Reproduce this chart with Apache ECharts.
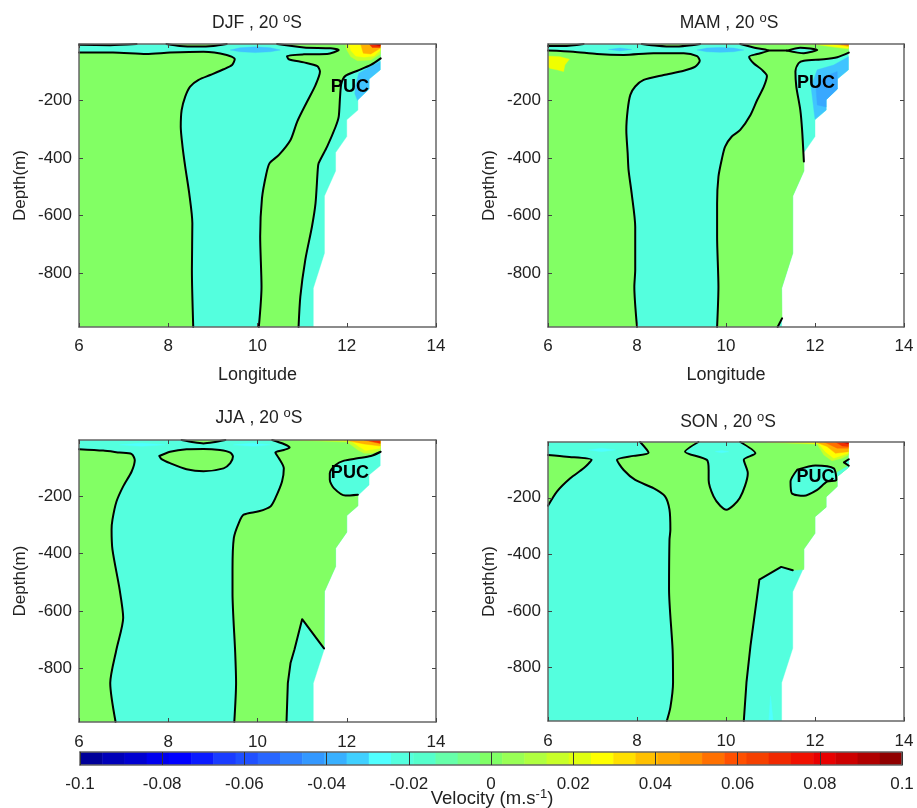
<!DOCTYPE html>
<html><head><meta charset="utf-8">
<style>html,body{margin:0;padding:0;background:#fff}#c{width:917px;height:808px}</style>
<script src="https://cdn.jsdelivr.net/npm/echarts@6/dist/echarts.min.js"></script>
</head><body><div id="c"></div>
<script>
// ---------- tick labels ----------
const lonTicks = [6, 8, 10, 12, 14];
const depthTicks = [-800, -600, -400, -200];
const velocityTicks = [-0.1, -0.08, -0.06, -0.04, -0.02, 0, 0.02, 0.04, 0.06, 0.08, 0.1];
const colorbarLevels = ['#000099','#0000b8','#0000d0','#0000ee','#0000ff','#0a1aff','#1a3cff','#2050ff','#2866ff','#2e80ff','#3398ff','#38b0ff','#40d0ff','#50ffff','#54ffde','#55ffcc','#66ffaa','#75ff88','#80ff66','#99ff55','#b0ff40','#c8ff28','#e0ff10','#ffff00','#ffe000','#ffc000','#ffa800','#ff9000','#ff7000','#ff5000','#f54000','#f02800','#f01000','#e80000','#cc0000','#b00000','#900000'];

// ---------- ocean/shelf edge [lon, depth] ----------
const shelfEdge = [[12.75,-3],[12.75,-93],[12.5,-125],[12.5,-160],[12.25,-197],[12.25,-233],[12,-267],[12,-325],[11.75,-381],[11.75,-445],[11.5,-532],[11.5,-731],[11.25,-853],[11.25,-988]];

// ---------- DJF ----------
const djfA = [[6,-33],[6.76,-33],[7.51,-38],[8.04,-33],[8.79,-30],[9.31,-41],[9.49,-56],[9.43,-76],[9.24,-91],[8.94,-111],[8.68,-128],[8.49,-151],[8.38,-186],[8.3,-233],[8.28,-291],[8.32,-360],[8.38,-430],[8.47,-523],[8.54,-627],[8.53,-790],[8.56,-988]];
const djfB = [[10.44,-3],[11.04,-15],[11.64,-18],[11.82,-24],[11.56,-38],[11.04,-39],[10.66,-45],[10.7,-56],[11.04,-67],[11.34,-80],[11.4,-99],[11.3,-146],[11.11,-204],[10.89,-273],[10.74,-337],[10.48,-389],[10.27,-418],[10.2,-453],[10.1,-540],[10.06,-673],[10.09,-848],[10.03,-988]];
const djfC = [[12.76,-53],[12.54,-76],[12.24,-96],[11.97,-114],[11.88,-140],[11.85,-186],[11.82,-256],[11.75,-291],[11.56,-360],[11.37,-418],[11.35,-441],[11.3,-558],[11.22,-639],[11.07,-755],[10.96,-882],[10.92,-988]];
const djfTop1 = [[6,-6],[6.7,-7],[7.29,-3]];
const djfTop2 = [[7.96,-3],[8.26,-10],[8.64,-12],[9.01,-10],[9.31,-3]];
const djfBlue = [[12.75,-64],[12.5,-84],[12.27,-105],[12.2,-146],[12.18,-175],[12.24,-200],[12.25,-197],[12.5,-160],[12.5,-125],[12.75,-93]];
const djfEddy = [[9.39,-24],[9.61,-16],[9.95,-13],[10.29,-16],[10.51,-24],[10.29,-30],[9.95,-33],[9.61,-30]];
const djfWarm1 = [[11.97,-3],[12,-24],[12.09,-47],[12.24,-61],[12.54,-59],[12.75,-38],[12.75,-3]];
const djfWarm2 = [[12.05,-3],[12.09,-26],[12.2,-45],[12.39,-49],[12.61,-45],[12.75,-26],[12.75,-3]];
const djfWarm3 = [[12.31,-3],[12.37,-35],[12.54,-38],[12.75,-18],[12.75,-3]];
const djfWarm4 = [[12.5,-3],[12.57,-15],[12.75,-15],[12.75,-3]];
const djfWarm5 = [[12.57,-3],[12.75,-10],[12.75,-3]];

// ---------- MAM ----------
const mamA = [[6,-26],[6.57,-30],[7.1,-38],[7.7,-41],[8.37,-35],[9.05,-35],[9.35,-45],[9.41,-61],[9.31,-82],[9.05,-96],[8.6,-111],[8.15,-128],[7.96,-151],[7.85,-180],[7.79,-233],[7.76,-302],[7.79,-383],[7.81,-441],[7.88,-523],[7.96,-639],[7.96,-790],[7.94,-848],[8,-988]];
const mamB = [[10.32,-3],[10.7,-18],[10.96,-26],[10.7,-38],[10.52,-47],[10.62,-70],[10.81,-93],[10.92,-114],[10.85,-151],[10.7,-198],[10.55,-250],[10.32,-302],[10.13,-325],[9.98,-360],[9.91,-401],[9.83,-465],[9.8,-558],[9.8,-673],[9.83,-848],[9.8,-988]];
const mamC = [[12.76,-33],[12.5,-49],[12.2,-56],[11.75,-61],[11.63,-70],[11.56,-99],[11.58,-151],[11.67,-233],[11.71,-302],[11.75,-412]];
const mamD = [[11.26,-958],[11.16,-988]];
const mamLink = [[10.96,-26],[11.37,-26]];
const mamLens = [[11.37,-26],[11.67,-16],[12.05,-24],[11.75,-35],[11.37,-26]];
const mamTop1 = [[6,-10],[6.35,-10],[6.8,-3]];
const mamTop2 = [[8.11,-3],[8.45,-9],[8.82,-12],[9.12,-9],[9.42,-3]];
const mamBlue = [[12.75,-47],[12.42,-76],[12.05,-93],[11.91,-151],[11.97,-227],[12,-265],[12.25,-233],[12.25,-197],[12.5,-160],[12.5,-125],[12.75,-93]];
const mamBlueCore = [[12.5,-99],[12.2,-117],[12.02,-151],[12.05,-215],[12.25,-222],[12.25,-197],[12.5,-160]];
const mamYellow = [[6,-45],[6.27,-47],[6.48,-56],[6.38,-76],[6.35,-99],[6.2,-93],[6.05,-88],[6,-82]];
const mamEddy1 = [[7.36,-22],[7.62,-17],[7.88,-22],[7.62,-27]];
const mamEddy2 = [[9.35,-24],[9.57,-17],[9.87,-15],[10.17,-17],[10.4,-24],[10.17,-30],[9.87,-32],[9.57,-30]];
const mamWarm1 = [[11,-3],[12,-5],[12.42,-14],[12.75,-20],[12.75,-3]];
const mamWarm2 = [[12,-3],[12.42,-12],[12.75,-18],[12.75,-3]];
const mamWarm3 = [[12.42,-3],[12.75,-12],[12.75,-3]];
const mamWarm4 = [[12.57,-3],[12.75,-7],[12.75,-3]];

// ---------- JJA ----------
const jjaA = [[6,-35],[6.54,-40],[6.91,-47],[7.18,-52],[7.25,-73],[7.18,-113],[6.99,-165],[6.84,-218],[6.75,-281],[6.73,-316],[6.75,-386],[6.91,-525],[6.99,-624],[6.84,-734],[6.7,-852],[6.82,-988]];
const jjaB = [[10.33,-3],[10.59,-17],[10.72,-29],[10.59,-38],[10.4,-47],[10.48,-67],[10.59,-102],[10.55,-148],[10.4,-206],[10.29,-235],[10.03,-252],[9.69,-264],[9.58,-293],[9.47,-345],[9.44,-455],[9.44,-537],[9.5,-745],[9.52,-850],[9.48,-988]];
const jjaC = [[10.65,-988],[10.68,-852],[10.74,-782],[10.83,-734],[11,-629],[11.49,-731]];
const jjaPuc = [[12.76,-44],[12.54,-59],[12.24,-67],[11.94,-75],[11.75,-90],[11.62,-119],[11.62,-142],[11.71,-171],[11.97,-197],[12.25,-194]];
const jjaTop = [[8.3,-3],[8.57,-11],[8.79,-15],[9.01,-11],[9.28,-3]];
const jjaLens = [[7.8,-59],[8.04,-44],[8.41,-35],[8.79,-34],[9.16,-38],[9.39,-47],[9.45,-61],[9.39,-84],[9.24,-102],[8.79,-112],[8.41,-105],[8.04,-84],[7.85,-70],[7.8,-59]];
const jjaLight1 = [[6.91,-20],[7.4,-14],[7.93,-20],[7.4,-25]];
const jjaLight2 = [[9.46,-20],[9.9,-14],[10.29,-20],[9.9,-25]];
const jjaWarm1 = [[10.78,-3],[12.01,-10],[12.25,-38],[12.39,-49],[12.57,-49],[12.75,-40],[12.75,-3]];
const jjaWarm2 = [[10.96,-3],[12.09,-6],[12.27,-26],[12.42,-40],[12.75,-32],[12.75,-3]];
const jjaWarm3 = [[11.94,-3],[12.39,-17],[12.75,-24],[12.75,-3]];
const jjaWarm4 = [[12.39,-3],[12.65,-12],[12.75,-15],[12.75,-3]];

// ---------- SON ----------
const sonA = [[6,-49],[6.42,-55],[6.98,-66],[6.8,-96],[6.5,-131],[6.2,-178],[6,-228]];
const sonB = [[8.07,-3],[8.26,-41],[7.92,-52],[7.55,-66],[7.7,-102],[7.96,-137],[8.37,-166],[8.63,-195],[8.73,-242],[8.75,-313],[8.73,-348],[8.72,-524],[8.8,-735],[8.81,-852],[8.75,-940],[8.67,-988]];
const sonC = [[10.4,-988],[10.46,-852],[10.55,-723],[10.75,-489],[11.24,-444],[11.5,-456]];
const sonBubble = [[9.38,-3],[9.08,-37],[9.57,-66],[9.61,-102],[9.61,-137],[9.72,-195],[9.87,-228],[10.01,-242],[10.31,-201],[10.49,-113],[10.4,-66],[10.66,-43],[10.32,-3]];
const sonPuc = [[11.6,-101],[12.01,-86],[12.42,-96],[12.48,-137],[12.27,-143],[12.05,-172],[11.75,-193],[11.48,-184],[11.45,-143],[11.6,-101]];
const sonNick = [[12.76,-64],[12.65,-75],[12.76,-87]];
const sonNickFill = [[12.75,-87],[12.5,-110],[12.5,-125],[12.75,-93]];
const sonLight1 = [[6.91,-31],[7.2,-25],[7.51,-31],[7.2,-37]];
const sonLight2 = [[9.76,-37],[9.9,-33],[10.06,-37],[9.9,-41]];
const sonLight3 = [[10.96,-988],[11,-899],[11.06,-988]];
const sonWarm1 = [[10.77,-3],[12.05,-11],[12.2,-49],[12.38,-69],[12.61,-60],[12.75,-49],[12.75,-3]];
const sonWarm2 = [[10.92,-3],[12.08,-8],[12.23,-37],[12.42,-60],[12.75,-43],[12.75,-3]];
const sonWarm3 = [[12.01,-3],[12.27,-19],[12.46,-43],[12.75,-37],[12.75,-3]];
const sonWarm4 = [[12.2,-3],[12.5,-25],[12.75,-25],[12.75,-3]];
const sonWarm5 = [[12.46,-3],[12.61,-17],[12.75,-19],[12.75,-3]];
const sonWarm6 = [[12.61,-3],[12.75,-10],[12.75,-3]];

// ---------- PUC label anchors ----------
const pucAnchors = [[12.07,-154],[12.02,-138],[12.07,-119],[12.01,-127]];
const panelNames = ['DJF','MAM','JJA','SON'];

// ---------- colours ----------
const CY='#54ffde', GR='#82ff64', BL='#40c4ff', BL2='#38a8ff', LC='#50ffff', YG='#c8ff28', YE='#ffff00', OR='#ffb000', OR2='#ff7000', RD='#f03000', DR='#c80000';
const ocean = [[6,-3], ...shelfEdge, [6,-988]];

const panels = [
 { // DJF
  layers: [
   [ocean,CY],
   [[...djfA,[6,-988]],GR],
   [[...djfB, ...djfC.slice().reverse(), [12.75,-3]],GR],
   [djfTop1.concat([[6,-3]]),GR],[djfTop2,GR],
   [djfBlue,BL],[djfEddy,BL],
   [djfWarm1,YG],[djfWarm2,YE],[djfWarm3,OR],[djfWarm4,RD],[djfWarm5,DR]],
  lines: [djfA,djfB,djfC,djfTop1,djfTop2]
 },
 { // MAM
  layers: [
   [ocean,CY],
   [[...mamA,[6,-988]],GR],
   [[...mamB,[11.16,-988],[11.26,-958],[11.25,-853],[11.5,-731],[11.5,-532],[11.75,-445], ...mamC.slice().reverse(),[12.75,-3]],GR],
   [mamTop1.concat([[6,-3]]),GR],[mamTop2,GR],
   [mamLens,CY],
   [mamBlue,BL],[mamBlueCore,BL2],[mamEddy1,BL],[mamEddy2,BL],[mamYellow,'#f0ff00'],
   [mamWarm1,YG],[mamWarm2,YE],[mamWarm3,OR],[mamWarm4,RD]],
  lines: [mamA,mamB,mamC,mamD,mamLink,mamLens,mamTop1,mamTop2]
 },
 { // JJA
  layers: [
   [ocean,CY],
   [[...jjaA,[6,-988]],GR],
   [[...jjaB,...jjaC,[11.5,-532],[11.75,-445],[11.75,-381],[12,-325],[12,-267],[12.25,-233], ...jjaPuc.slice().reverse(),[12.75,-3]],GR],
   [jjaTop,GR],[jjaLens,GR],[jjaLight1,LC],[jjaLight2,LC],
   [jjaWarm1,YG],[jjaWarm2,YE],[jjaWarm3,OR],[jjaWarm4,RD]],
  lines: [jjaA,jjaB,jjaC,jjaPuc,jjaTop,jjaLens]
 },
 { // SON
  layers: [
   [ocean,CY],
   [sonA,GR],
   [[...sonB,...sonC,[11.75,-453],[11.75,-381],[12,-325],[12,-267],[12.25,-233],[12.25,-197],[12.5,-160],[12.5,-125],[12.75,-93],[12.75,-3]],GR],
   [sonBubble,CY],[sonPuc,CY],[sonNickFill,CY],[sonNick,CY],[sonLight1,LC],[sonLight2,LC],[sonLight3,LC],
   [sonWarm1,YG],[sonWarm2,YE],[sonWarm3,OR],[sonWarm4,OR2],[sonWarm5,RD],[sonWarm6,DR]],
  lines: [sonA,sonB,sonC,sonBubble,sonPuc,sonNick]
 }
];
const straightLines = new Set([jjaC, sonC, mamD, mamLink, sonNick]);

const FONT='"Liberation Sans", Arial, sans-serif', TXT='#222', FRAME='#666', FS=17;
const gridBoxes = [
 {left:79, top:44, width:357, height:283},
 {left:548,top:44, width:356, height:283},
 {left:79, top:440,width:357, height:282},
 {left:548,top:442,width:356, height:279},
 {left:80, top:752,width:822, height:13}
];
const tickSt={inside:true,length:4,lineStyle:{color:'#444',width:1}};
const lineSt={lineStyle:{color:FRAME,width:1.5}};
const xAxes=[],yAxes=[],series=[];
panels.forEach((p,i)=>{
  const xa=i*2, ya=i*2;
  xAxes.push({gridIndex:i,type:'value',min:6,max:14,interval:2,position:'bottom',z:5,splitLine:{show:false},
    axisLine:{show:true,onZero:false,...lineSt},axisTick:{show:true,...tickSt},
    axisLabel:{show:true,margin:i<2?11:12,fontFamily:FONT,fontSize:FS,color:TXT,hideOverlap:false},
    ...(i<2?{name:'Longitude',nameLocation:'middle',nameGap:39,nameTextStyle:{fontFamily:FONT,fontSize:18,color:TXT}}:{})});
  xAxes.push({gridIndex:i,type:'value',min:6,max:14,interval:2,position:'top',z:5,splitLine:{show:false},
    axisLine:{show:true,onZero:false,...lineSt},axisTick:{show:true,...tickSt},axisLabel:{show:false}});
  yAxes.push({gridIndex:i,type:'value',min:-988,max:-3,position:'left',z:5,splitLine:{show:false},
    axisLine:{show:true,onZero:false,...lineSt},axisTick:{show:true,customValues:depthTicks,...tickSt},
    axisLabel:{show:true,customValues:depthTicks,margin:7,fontFamily:FONT,fontSize:FS,color:TXT},
    name:'Depth(m)',nameLocation:'middle',nameGap:50,nameTextStyle:{fontFamily:FONT,fontSize:FS,color:TXT}});
  yAxes.push({gridIndex:i,type:'value',min:-988,max:-3,position:'right',z:5,splitLine:{show:false},
    axisLine:{show:true,onZero:false,...lineSt},axisTick:{show:true,customValues:depthTicks,...tickSt},axisLabel:{show:false}});
  p.layers.forEach(([pts,color])=>{
    series.push({type:'custom',coordinateSystem:'cartesian2d',xAxisIndex:xa,yAxisIndex:ya,z:2,silent:true,clip:true,
      data:[pts[0]],encode:{x:0,y:1},
      renderItem:(params,api)=>({type:'polygon',shape:{points:pts.map(q=>api.coord(q))},style:{fill:color,stroke:color,lineWidth:0.4}})});
  });
  p.lines.forEach(pts=>{
    series.push({type:'line',xAxisIndex:xa,yAxisIndex:ya,z:3,data:pts,showSymbol:false,silent:true,
      smooth:straightLines.has(pts)?false:0.25,lineStyle:{color:'#000',width:2,join:'round',cap:'round'}});
  });
  series.push({type:'custom',coordinateSystem:'cartesian2d',xAxisIndex:xa,yAxisIndex:ya,z:4,silent:true,clip:false,
    data:[pucAnchors[i]],encode:{x:0,y:1},
    renderItem:(params,api)=>{const c=api.coord([api.value(0),api.value(1)]);
      return {type:'text',x:c[0],y:c[1],style:{text:'PUC',font:'bold 18px '+FONT,fill:'#000',textAlign:'center',textVerticalAlign:'middle'}};}});
});
// colour bar (axes index 8 = bottom/left, 9 = top/right)
xAxes.push({gridIndex:4,type:'value',min:-0.1,max:0.1,position:'bottom',z:5,splitLine:{show:false},
  axisLine:{show:true,onZero:false,...lineSt},
  axisTick:{show:true,inside:true,length:13,customValues:velocityTicks,lineStyle:{color:'#333',width:1}},
  axisLabel:{show:true,margin:11,customValues:velocityTicks,fontFamily:FONT,fontSize:FS,color:TXT,formatter:v=>String(+(+v).toFixed(2))}});
xAxes.push({gridIndex:4,type:'value',min:-0.1,max:0.1,position:'top',z:5,splitLine:{show:false},
  axisLine:{show:true,onZero:false,...lineSt},axisTick:{show:false},axisLabel:{show:false}});
yAxes.push({gridIndex:4,type:'value',min:0,max:1,position:'left',z:5,splitLine:{show:false},
  axisLine:{show:true,onZero:false,...lineSt},axisTick:{show:false},axisLabel:{show:false}});
yAxes.push({gridIndex:4,type:'value',min:0,max:1,position:'right',z:5,splitLine:{show:false},
  axisLine:{show:true,onZero:false,...lineSt},axisTick:{show:false},axisLabel:{show:false}});
const lvl=0.2/colorbarLevels.length;
series.push({type:'custom',coordinateSystem:'cartesian2d',xAxisIndex:8,yAxisIndex:8,z:2,silent:true,
  data:colorbarLevels.map((c,i)=>[-0.1+i*lvl,0]),encode:{x:0,y:1},
  renderItem:(params,api)=>{const i=params.dataIndex,a=api.coord([-0.1+i*lvl,1]),b=api.coord([-0.1+(i+1)*lvl,0]);
    return {type:'rect',shape:{x:a[0],y:a[1],width:b[0]-a[0]+0.5,height:b[1]-a[1]},style:{fill:colorbarLevels[i]}};}});

// titles
const titleAnchors=[[252,7],[724,7],[254,402],[723,406]];
const mkRich=(sz,ssz)=>({t:{fontFamily:FONT,fontSize:sz,fontWeight:'normal',color:TXT,verticalAlign:'bottom',lineHeight:20},
            s:{fontFamily:FONT,fontSize:ssz,fontWeight:'normal',color:TXT,verticalAlign:'top',lineHeight:20,padding:[0,0,8,0]}});
const titles=panelNames.map((n,i)=>({text:`{t|${n} , 20 }{s|o}{t|S}`,left:titleAnchors[i][0],top:titleAnchors[i][1],textAlign:'center',
  textStyle:{rich:mkRich(17.5,13),fontSize:17.5,fontWeight:'normal',fontFamily:FONT}}));
titles.push({text:'{t|Velocity (m.s}{s|-1}{t|)}',left:487,top:783,textAlign:'center',textStyle:{rich:mkRich(18.5,13),fontSize:18.5,fontWeight:'normal',fontFamily:FONT}});

echarts.init(document.getElementById('c'),null,{renderer:'canvas'}).setOption({
  animation:false,backgroundColor:'#fff',
  title:titles,grid:gridBoxes,xAxis:xAxes,yAxis:yAxes,series
});
</script></body></html>
